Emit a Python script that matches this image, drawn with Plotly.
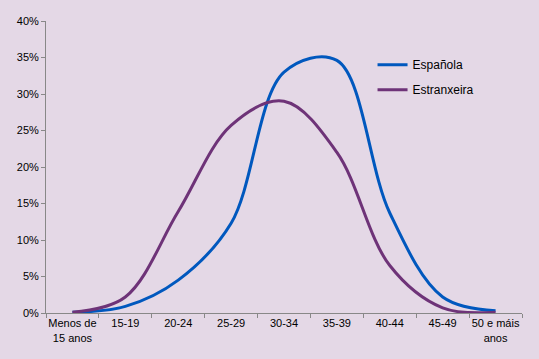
import plotly.graph_objects as go

categories = ["Menos de<br>15 anos", "15-19", "20-24", "25-29", "30-34", "35-39", "40-44", "45-49", "50 e máis<br>anos"]
espanola = [0.001, 0.009, 0.045, 0.123, 0.330, 0.346, 0.137, 0.022, 0.003]
estranxeira = [0.001, 0.022, 0.139, 0.257, 0.290, 0.220, 0.065, 0.007, 0.001]

bg = "#E4D8E6"
fig = go.Figure()
fig.add_trace(go.Scatter(x=categories, y=espanola, name="Española", mode="lines", legendgroup="a",
                         line=dict(color="#0058BE", width=3, shape="spline", smoothing=1.0)))
fig.add_trace(go.Scatter(x=categories, y=estranxeira, name="Estranxeira", mode="lines", legendgroup="b",
                         line=dict(color="#6E3378", width=3, shape="spline", smoothing=1.0)))

fig.update_layout(
    width=539, height=359,
    paper_bgcolor=bg, plot_bgcolor=bg,
    margin=dict(l=46, r=17, t=21, b=46),
    font=dict(family="Liberation Sans, Arial, sans-serif", size=11, color="#000000"),
    showlegend=True,
    legend=dict(x=0.686, y=0.90, xanchor="left", yanchor="top", bgcolor="rgba(0,0,0,0)",
                font=dict(size=12), traceorder="grouped", tracegroupgap=6, itemwidth=30),
    xaxis=dict(type="category", range=[-0.5, 8.5], automargin=False, tickangle=0,
               showgrid=False, showline=True, linecolor="#888888", linewidth=1,
               ticks="outside", tickson="boundaries", ticklen=4, tickcolor="#888888", zeroline=False),
    yaxis=dict(range=[0, 0.40], dtick=0.05, tickformat=".0%", showgrid=False, showline=True,
               automargin=False,
               linecolor="#888888", linewidth=1, ticks="outside", ticklen=4, tickcolor="#888888",
               zeroline=False),
)
fig.write_html("out.html", config={"displayModeBar": False},
               post_script="document.body.style.margin='0';document.body.style.background='" + bg + "';")
